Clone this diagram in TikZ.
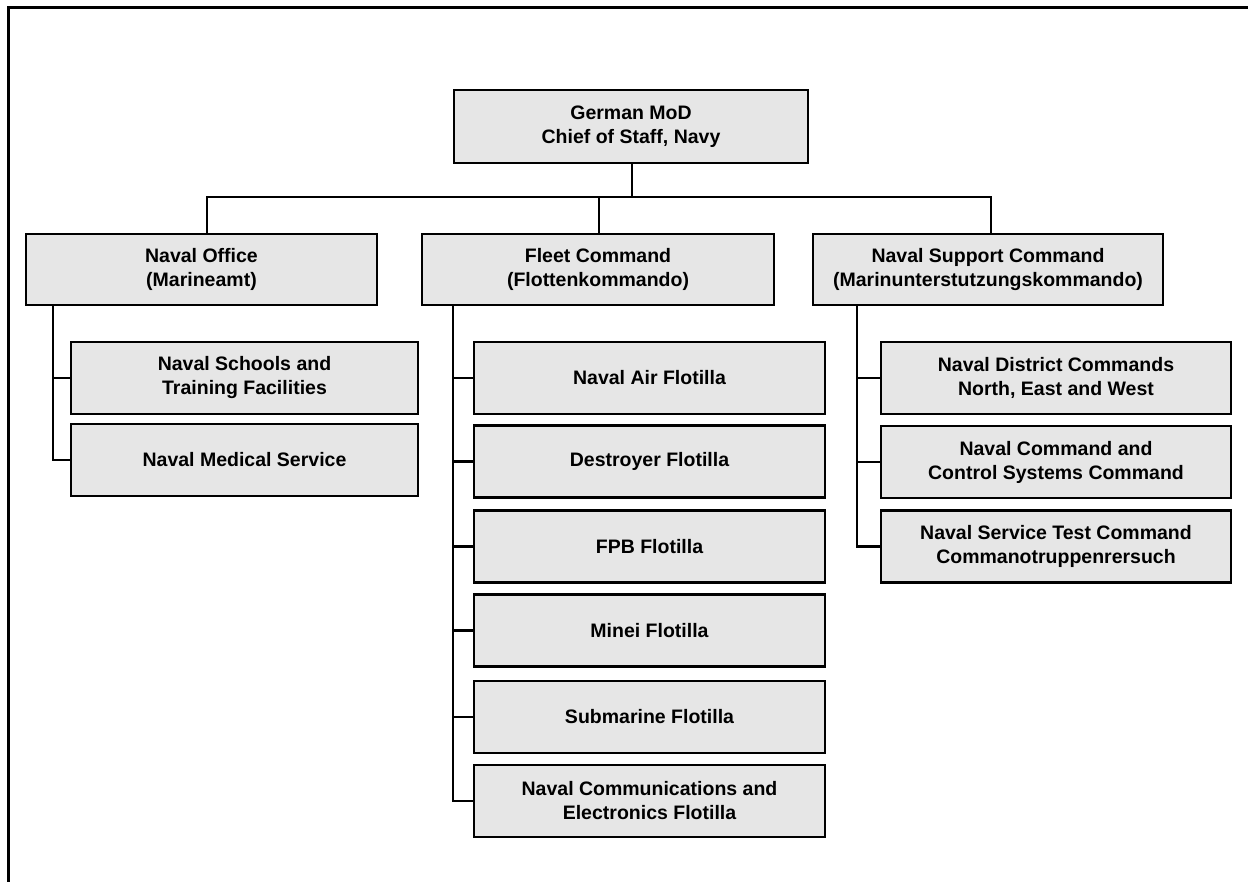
\documentclass[tikz,border=0pt]{standalone}
\usepackage{fontspec}
\setmainfont{Liberation Sans}
\definecolor{boxfill}{HTML}{E6E6E6}
\begin{document}
\begin{tikzpicture}[x=1pt,y=-1pt,
  orgbox/.style={draw=black, fill=boxfill, line width=2.6pt, rectangle, inner sep=0pt,
    align=center, font=\fontsize{19.5}{24}\selectfont\bfseries, text=black},
  wide/.style={minimum width=#1},
  conn/.style={draw=black, line width=2.2pt}]
\useasboundingbox (0,0) rectangle (1248,882);
\draw[line width=2.6pt] (8.5,882) -- (8.5,7.5) -- (1248,7.5);

% top
\node[orgbox, minimum width=354, minimum height=73] (top) at (631,126.5) {German MoD\\Chief of Staff, Navy};
% level 1
\node[orgbox, minimum width=351, minimum height=71] (office) at (201.5,269.5) {Naval Office\\(Marineamt)};
\node[orgbox, minimum width=352, minimum height=71] (fleet) at (598,269.5) {Fleet Command\\(Flottenkommando)};
\node[orgbox, minimum width=350, minimum height=71] (support) at (988,269.5) {Naval Support Command\\(Marinunterstutzungskommando)};

% office children
\node[orgbox, minimum width=347, minimum height=72] (o1) at (244.5,378) {Naval Schools and\\Training Facilities};
\node[orgbox, minimum width=347, minimum height=72] (o2) at (244.5,460) {Naval Medical Service};

% fleet children
\node[orgbox, minimum width=351, minimum height=72] (f1) at (649.5,378) {Naval Air Flotilla};
\node[orgbox, minimum width=351, minimum height=72] (f2) at (649.5,461.5) {Destroyer Flotilla};
\node[orgbox, minimum width=351, minimum height=72] (f3) at (649.5,546.5) {FPB Flotilla};
\node[orgbox, minimum width=351, minimum height=72] (f4) at (649.5,630.5) {Minei Flotilla};
\node[orgbox, minimum width=351, minimum height=72] (f5) at (649.5,717) {Submarine Flotilla};
\node[orgbox, minimum width=351, minimum height=72] (f6) at (649.5,801) {Naval Communications and\\Electronics Flotilla};

% support children
\node[orgbox, minimum width=350, minimum height=72] (s1) at (1056,378) {Naval District Commands\\North, East and West};
\node[orgbox, minimum width=350, minimum height=72] (s2) at (1056,462) {Naval Command and\\Control Systems Command};
\node[orgbox, minimum width=350, minimum height=72] (s3) at (1056,546.5) {Naval Service Test Command\\Commanotruppenrersuch};

% bus from top
\coordinate (bus) at (632,197);
\draw[conn] ([xshift=1pt]top.south) -- (bus);
\draw[conn] ([xshift=5.5pt]office.north) |- (bus);
\draw[conn] ([xshift=1pt]fleet.north) -- ([xshift=1pt]fleet.north |- bus);
\draw[conn] ([xshift=3pt]support.north) |- (bus);

% office branch
\draw[conn] (53,0 |- office.south) -- (53,0 |- o2.west) -- (o2.west);
\draw[conn] (53,0 |- o1.west) -- (o1.west);

% fleet branch
\draw[conn] (453,0 |- fleet.south) -- (453,0 |- f6.west) -- (f6.west);
\foreach \n in {f1,f2,f3,f4,f5}{
  \draw[conn] (453,0 |- \n.west) -- (\n.west);
}

% support branch
\draw[conn] (857,0 |- support.south) -- (857,0 |- s3.west) -- (s3.west);
\foreach \n in {s1,s2}{
  \draw[conn] (857,0 |- \n.west) -- (\n.west);
}
\end{tikzpicture}
\end{document}
